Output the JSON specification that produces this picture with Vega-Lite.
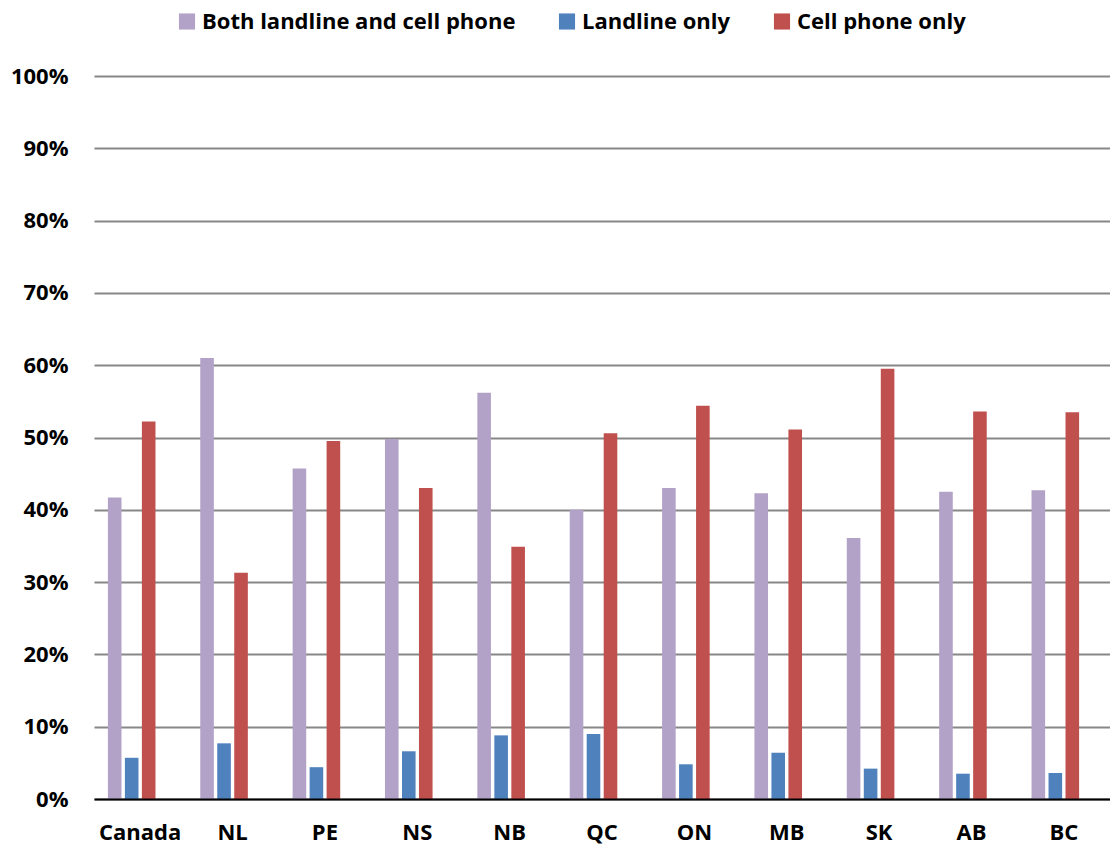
{
  "$schema": "https://vega.github.io/schema/vega-lite/v6.json",
  "width": 1016,
  "height": 723,
  "autosize": {"type": "none"},
  "padding": {"left": 94, "top": 76, "right": 0, "bottom": 49},
  "background": "white",
  "config": {
    "view": {"stroke": null},
    "font": "Open Sans"
  },
  "data": {
    "values": [
      {"region": "Canada", "type": "Both landline and cell phone", "pct": 41.7},
      {"region": "Canada", "type": "Landline only", "pct": 5.7},
      {"region": "Canada", "type": "Cell phone only", "pct": 52.2},
      {"region": "NL", "type": "Both landline and cell phone", "pct": 61.0},
      {"region": "NL", "type": "Landline only", "pct": 7.7},
      {"region": "NL", "type": "Cell phone only", "pct": 31.3},
      {"region": "PE", "type": "Both landline and cell phone", "pct": 45.7},
      {"region": "PE", "type": "Landline only", "pct": 4.4},
      {"region": "PE", "type": "Cell phone only", "pct": 49.5},
      {"region": "NS", "type": "Both landline and cell phone", "pct": 49.8},
      {"region": "NS", "type": "Landline only", "pct": 6.6},
      {"region": "NS", "type": "Cell phone only", "pct": 43.0},
      {"region": "NB", "type": "Both landline and cell phone", "pct": 56.2},
      {"region": "NB", "type": "Landline only", "pct": 8.8},
      {"region": "NB", "type": "Cell phone only", "pct": 34.9},
      {"region": "QC", "type": "Both landline and cell phone", "pct": 40.0},
      {"region": "QC", "type": "Landline only", "pct": 9.0},
      {"region": "QC", "type": "Cell phone only", "pct": 50.6},
      {"region": "ON", "type": "Both landline and cell phone", "pct": 43.0},
      {"region": "ON", "type": "Landline only", "pct": 4.8},
      {"region": "ON", "type": "Cell phone only", "pct": 54.4},
      {"region": "MB", "type": "Both landline and cell phone", "pct": 42.3},
      {"region": "MB", "type": "Landline only", "pct": 6.4},
      {"region": "MB", "type": "Cell phone only", "pct": 51.1},
      {"region": "SK", "type": "Both landline and cell phone", "pct": 36.1},
      {"region": "SK", "type": "Landline only", "pct": 4.2},
      {"region": "SK", "type": "Cell phone only", "pct": 59.5},
      {"region": "AB", "type": "Both landline and cell phone", "pct": 42.5},
      {"region": "AB", "type": "Landline only", "pct": 3.5},
      {"region": "AB", "type": "Cell phone only", "pct": 53.6},
      {"region": "BC", "type": "Both landline and cell phone", "pct": 42.7},
      {"region": "BC", "type": "Landline only", "pct": 3.6},
      {"region": "BC", "type": "Cell phone only", "pct": 53.5}
    ]
  },
  "mark": {"type": "bar"},
  "encoding": {
    "x": {
      "field": "region",
      "type": "nominal",
      "sort": null,
      "scale": {"paddingInner": 0.264, "paddingOuter": 0.132},
      "axis": {
        "title": null,
        "labelAngle": 0,
        "ticks": false,
        "domain": true,
        "domainColor": "#000000",
        "domainWidth": 2,
        "labelPadding": 23,
        "labelFont": "Open Sans",
        "labelFontWeight": "bold",
        "labelFontSize": 22,
        "labelColor": "#000000",
        "zindex": 1
      }
    },
    "xOffset": {
      "field": "type",
      "type": "nominal",
      "scale": {
        "domain": ["Both landline and cell phone", "Landline only", "Cell phone only", "reserved"],
        "paddingInner": 0.2,
        "paddingOuter": 0.1
      }
    },
    "y": {
      "field": "pct",
      "type": "quantitative",
      "scale": {"domain": [0, 100], "nice": false},
      "axis": {
        "title": null,
        "values": [0, 10, 20, 30, 40, 50, 60, 70, 80, 90, 100],
        "labelExpr": "datum.value + '%'",
        "ticks": false,
        "domain": false,
        "grid": true,
        "gridColor": "#878787",
        "gridWidth": 2,
        "labelPadding": 26,
        "labelFont": "Open Sans",
        "labelFontWeight": "bold",
        "labelFontSize": 22,
        "labelColor": "#000000",
        "zindex": 0
      }
    },
    "color": {
      "field": "type",
      "type": "nominal",
      "scale": {
        "domain": ["Both landline and cell phone", "Landline only", "Cell phone only"],
        "range": ["#B3A2C7", "#4F81BD", "#C0504D"]
      },
      "legend": {
        "title": null,
        "orient": "none",
        "direction": "horizontal",
        "legendX": 82,
        "legendY": -65.5,
        "padding": 0,
        "symbolType": "square",
        "symbolSize": 260,
        "symbolStrokeWidth": 0,
        "labelOffset": 4,
        "columnPadding": 40,
        "labelFont": "Open Sans",
        "labelFontWeight": "bold",
        "labelFontSize": 22,
        "labelColor": "#000000",
        "labelLimit": 0
      }
    }
  }
}
